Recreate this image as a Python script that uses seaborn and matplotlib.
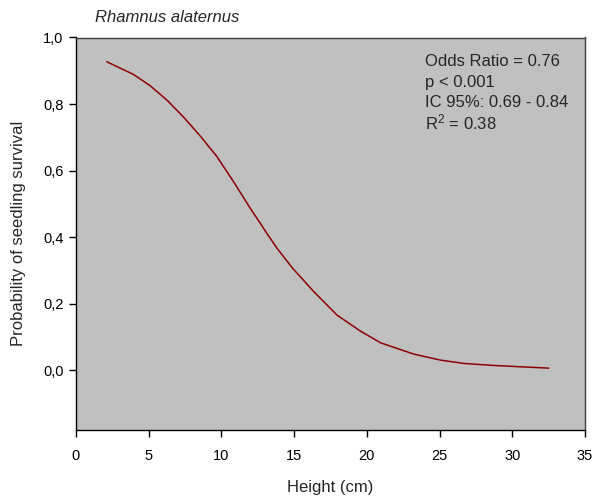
import matplotlib
matplotlib.use("Agg")
import matplotlib.pyplot as plt
import seaborn as sns
import pandas as pd
from matplotlib.ticker import FuncFormatter

# Data
height_cm = [2.12, 3.95, 5.10, 6.25, 7.39, 8.54, 9.69, 10.84, 11.99, 12.68, 13.14, 13.83,
             14.86, 16.35, 17.96, 19.57, 20.95, 23.24, 25.08, 26.69, 28.75, 32.5]
survival_prob = [0.927, 0.889, 0.855, 0.812, 0.761, 0.704, 0.642, 0.566, 0.486, 0.441, 0.410, 0.366,
                 0.308, 0.236, 0.165, 0.117, 0.082, 0.048, 0.030, 0.020, 0.014, 0.006]
x_ticks = [0, 5, 10, 15, 20, 25, 30, 35]
y_ticks = [0.0, 0.2, 0.4, 0.6, 0.8, 1.0]
stats_lines = ["Odds Ratio = 0.76", "p < 0.001", "IC 95%: 0.69 - 0.84", "R$^2$ = 0.38"]
title = "Rhamnus alaternus"

sns.set_style("white")
plt.rcParams['font.family'] = ['Liberation Sans', 'DejaVu Sans']
plt.rcParams['mathtext.default'] = 'regular'

df = pd.DataFrame({"Height": height_cm, "Prob": survival_prob})

fig = plt.figure(figsize=(5.94, 4.97), dpi=100)
ax = fig.add_axes([76/594, 1 - 430/497, (585 - 76)/594, (430 - 37.5)/497])
ax.set_facecolor("#C0C0C0")

sns.lineplot(data=df, x="Height", y="Prob", ax=ax, color="#8B0000", linewidth=1.1)

ax.set_xlim(0, 35)
ax.set_ylim(-0.18, 1.0)
ax.set_xticks(x_ticks)
ax.set_yticks(y_ticks)
ax.yaxis.set_major_formatter(FuncFormatter(lambda v, p: f"{v:.1f}".replace(".", ",")))
ax.tick_params(axis="both", direction="out", length=5, width=1, colors="black",
               labelsize=10.5)
ax.tick_params(axis="x", pad=9)
ax.tick_params(axis="y", pad=4)
ax.tick_params(left=True, bottom=True)

for s in ax.spines.values():
    s.set_visible(True)
    s.set_color("black")
    s.set_linewidth(1.0)
ax.spines["top"].set_color("#404040")
ax.spines["right"].set_color("#404040")

ax.set_xlabel("Height (cm)", fontsize=12, labelpad=12)
ax.set_ylabel("Probability of seedling survival", fontsize=12, labelpad=12)

fig.text(95/594, 1 - 17/497, title, fontsize=12, style="italic", ha="left", va="center")

y0 = 62
for i, line in enumerate(stats_lines):
    fig.text(425/594, 1 - (y0 + i * 20.3)/497, line, fontsize=12, ha="left", va="center")

fig.savefig("out.png", dpi=100)
